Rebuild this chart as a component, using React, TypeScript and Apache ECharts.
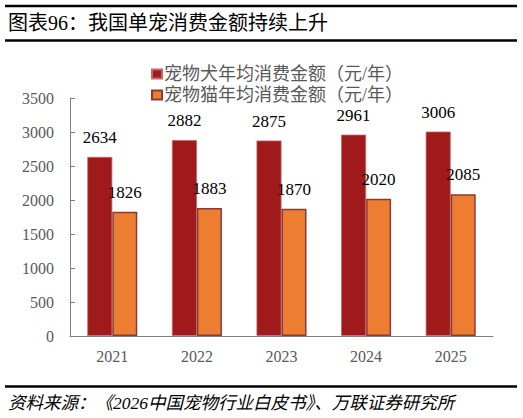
import { useEffect, useRef } from 'react';
import * as echarts from 'echarts';

const years = ['2021', '2022', '2023', '2024', '2025'];
const dogSpend = [2634, 2882, 2875, 2961, 3006];
const catSpend = [1826, 1883, 1870, 2020, 2085];
const seriesNames = ['宠物犬年均消费金额（元/年）', '宠物猫年均消费金额（元/年）'];
const titleText = '图表96：我国单宠消费金额持续上升';
const sourceText = '资料来源：《2026中国宠物行业白皮书》、万联证券研究所';

const serif = '"Liberation Serif", "Noto Sans CJK SC", serif';
const cjk = '"Liberation Serif", "Noto Sans CJK SC", sans-serif';

const App = () => {
  const chartRef = useRef<HTMLDivElement>(null);

  useEffect(() => {
    if (!chartRef.current) return;
    document.body.style.margin = '0';
    const chart = echarts.init(chartRef.current, undefined, { renderer: 'svg' });

    chart.setOption({
      animation: false,
      backgroundColor: '#fff',
      graphic: [
        { type: 'line', shape: { x1: 5, y1: 6, x2: 517, y2: 6 }, style: { stroke: '#000', lineWidth: 2.5 } },
        {
          type: 'text',
          left: 8,
          top: 13,
          style: { text: titleText, font: `20px ${cjk}`, fill: '#000' },
        },
        { type: 'line', shape: { x1: 5, y1: 40.5, x2: 517, y2: 40.5 }, style: { stroke: '#000', lineWidth: 2.5 } },
        { type: 'line', shape: { x1: 5, y1: 386.5, x2: 517, y2: 386.5 }, style: { stroke: '#000', lineWidth: 2.5 } },
        {
          type: 'text',
          left: 8,
          top: 394,
          style: { text: sourceText, font: `italic 17.5px ${cjk}`, fill: '#000' },
        },
      ],
      legend: {
        orient: 'vertical',
        left: 146,
        top: 60,
        itemWidth: 10,
        itemHeight: 9,
        itemGap: 3,
        icon: 'rect',
        textStyle: { fontFamily: cjk, fontSize: 18, color: '#595959', padding: [0, 0, 0, -3] },
        data: seriesNames,
      },
      grid: { left: 70, right: 30, top: 98, bottom: 82 },
      xAxis: {
        type: 'category',
        data: years,
        axisLine: { lineStyle: { color: '#808080' } },
        axisTick: { inside: true, length: 5, lineStyle: { color: '#808080' } },
        axisLabel: { fontFamily: serif, fontSize: 16, color: '#595959', margin: 12 },
      },
      yAxis: {
        type: 'value',
        min: 0,
        max: 3500,
        interval: 500,
        splitLine: { show: false },
        axisLine: { show: true, lineStyle: { color: '#808080' } },
        axisTick: { show: true, inside: true, length: 5, lineStyle: { color: '#808080' } },
        axisLabel: {
          fontFamily: serif,
          fontSize: 16,
          color: '#595959',
          margin: 16,
          formatter: (v: number) => String(v),
        },
      },
      series: [
        {
          name: seriesNames[0],
          type: 'bar',
          data: dogSpend,
          barWidth: 25,
          barGap: '0%',
          itemStyle: { color: '#A0191B', borderColor: '#C06868', borderWidth: 0.8 },
          label: {
            show: true,
            position: 'top',
            distance: 11,
            fontFamily: serif,
            fontSize: 17,
            color: '#000',
          },
        },
        {
          name: seriesNames[1],
          type: 'bar',
          data: catSpend,
          barWidth: 25,
          itemStyle: { color: '#ED7D31', borderColor: '#8B3A3A', borderWidth: 1.5 },
          label: {
            show: true,
            position: 'top',
            distance: 11,
            fontFamily: serif,
            fontSize: 17,
            color: '#000',
          },
        },
      ],
    });

    return () => {
      chart.dispose();
    };
  }, []);

  return <div ref={chartRef} style={{ width: 523, height: 418 }} />;
};

export default App;
